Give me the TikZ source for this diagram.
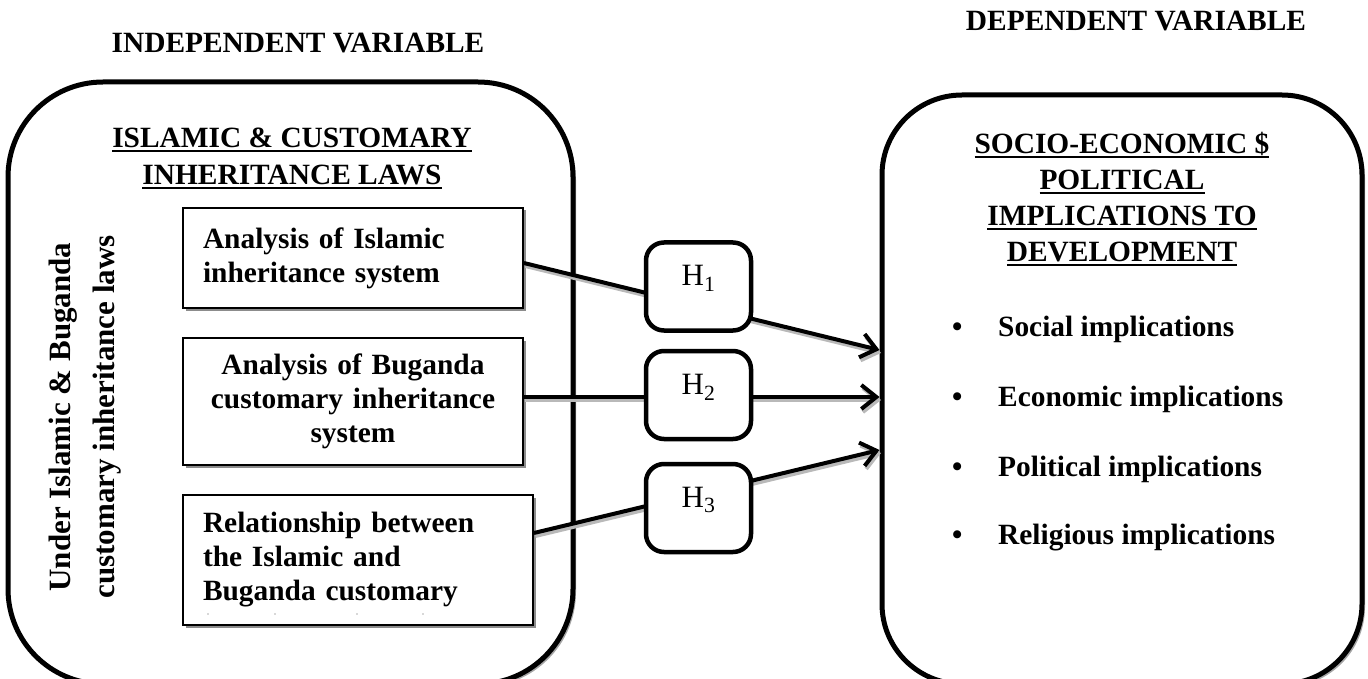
\documentclass[tikz,border=0pt]{standalone}
\usepackage{fontspec}
\setmainfont{Liberation Serif}
\usetikzlibrary{arrows.meta,shadows,calc}
\newcommand\myul[1]{\setbox0\hbox{#1}\rlap{\rule[-5pt]{\wd0}{2pt}}\box0}
\begin{document}
\begin{tikzpicture}[x=1pt,y=-1pt]
\tikzset{
  bigbox/.style={draw, line width=5pt, inner sep=0pt, fill=white,
     drop shadow={shadow xshift=3pt, shadow yshift=-3pt, fill=black, opacity=0.35}},
  inbox/.style={draw, line width=1.8pt, inner sep=0pt, fill=white,
     drop shadow={shadow xshift=2.5pt, shadow yshift=-2.5pt, fill=black, opacity=0.45}},
  hbox/.style={draw, line width=4.5pt, rounded corners=18pt, minimum width=105pt,
     minimum height=88pt, inner sep=0pt, fill=white},
  btxt/.style={font=\bfseries\fontsize{29.4}{34}\selectfont},
  hlab/.style={font=\fontsize{31}{36}\selectfont, inner sep=0pt},
  arr/.style={line width=4pt, -{Straight Barb[length=15pt,width=24pt]}},
  arrsh/.style={line width=4pt, draw=gray!55, -{Straight Barb[length=15pt,width=24pt]},
     transform canvas={xshift=1.5pt,yshift=-3pt}},
  bul/.style={anchor=west, inner sep=0pt, font=\bfseries\fontsize{29.4}{34}\selectfont}
}
\useasboundingbox (0,0) rectangle (1368,679);
\clip (0,0) rectangle (1368,679);

% big boxes
\node[bigbox, minimum width=565pt, minimum height=602pt, rounded corners=95pt] (L) at (290.5,383) {};
\node[bigbox, minimum width=480pt, minimum height=589pt, rounded corners=80pt] (R) at (1122,389.5) {};

% top headings
\node[btxt] (iv) at (298,43) {INDEPENDENT VARIABLE};
\node[btxt] (dv) at (1136,21) {DEPENDENT VARIABLE};

% left heading
\node[btxt, align=center, font=\bfseries\fontsize{29.4}{37}\selectfont] (lh) at (292,158.5)
  {\myul{ISLAMIC \& CUSTOMARY}\\\myul{INHERITANCE LAWS}};

% vertical text
\node[font=\bfseries\fontsize{31}{44}\selectfont, align=center, rotate=90] (vt) at (85,417)
  {Under Islamic \& Buganda\\customary inheritance laws};

% inner boxes
\node[inbox, btxt, minimum width=340pt, minimum height=100pt, text width=300pt, align=left] (b1) at (353,258)
  {Analysis of Islamic\\inheritance system};
\node[inbox, btxt, minimum width=340pt, minimum height=127pt, text width=300pt, align=center] (b2) at (353,401.5)
  {Analysis of Buganda\\customary inheritance\\system};
\node[inbox, btxt, minimum width=350pt, minimum height=130pt, text width=310pt, align=left] (b3) at (358,560)
  {Relationship between\\the Islamic and\\Buganda customary};
\foreach \px in {208,275,357,423} \fill[gray!60] (\px,614) circle (0.9);

% arrows
\draw[arrsh] (b1.east |- 0,263) -- (R.west |- 0,350);
\draw[arrsh] (b2.east |- 0,397) -- (R.west |- 0,397);
\draw[arrsh] (b3.east |- 0,533) -- (R.west |- 0,450);
\draw[arr] (b1.east |- 0,263) -- (R.west |- 0,350);
\draw[arr] (b2.east |- 0,397) -- (R.west |- 0,397);
\draw[arr] (b3.east |- 0,533) -- (R.west |- 0,450);

% H boxes
\node[hbox] (h1) at (698.5,286.5) {};
\node[hbox] (h2) at (698.5,395) {};
\node[hbox] (h3) at (698.5,508) {};
\node[hlab] (t1) at ([yshift=8pt]h1.center) {H\textsubscript{1}};
\node[hlab] (t2) at ([yshift=8pt]h2.center) {H\textsubscript{2}};
\node[hlab] (t3) at ([yshift=8pt]h3.center) {H\textsubscript{3}};

% right heading
\node[btxt, align=center, font=\bfseries\fontsize{29.4}{36}\selectfont] (rh) at (1122,199)
  {\myul{SOCIO-ECONOMIC \$}\\\myul{POLITICAL}\\\myul{IMPLICATIONS TO}\\\myul{DEVELOPMENT}};

% bullets
\node[bul] (i1) at (952,330) {\makebox[46pt][l]{\textbullet}Social implications\strut};
\node[bul] (i2) at (952,400) {\makebox[46pt][l]{\textbullet}Economic implications\strut};
\node[bul] (i3) at (952,470) {\makebox[46pt][l]{\textbullet}Political implications\strut};
\node[bul] (i4) at (952,538) {\makebox[46pt][l]{\textbullet}Religious implications\strut};
\end{tikzpicture}
\end{document}
